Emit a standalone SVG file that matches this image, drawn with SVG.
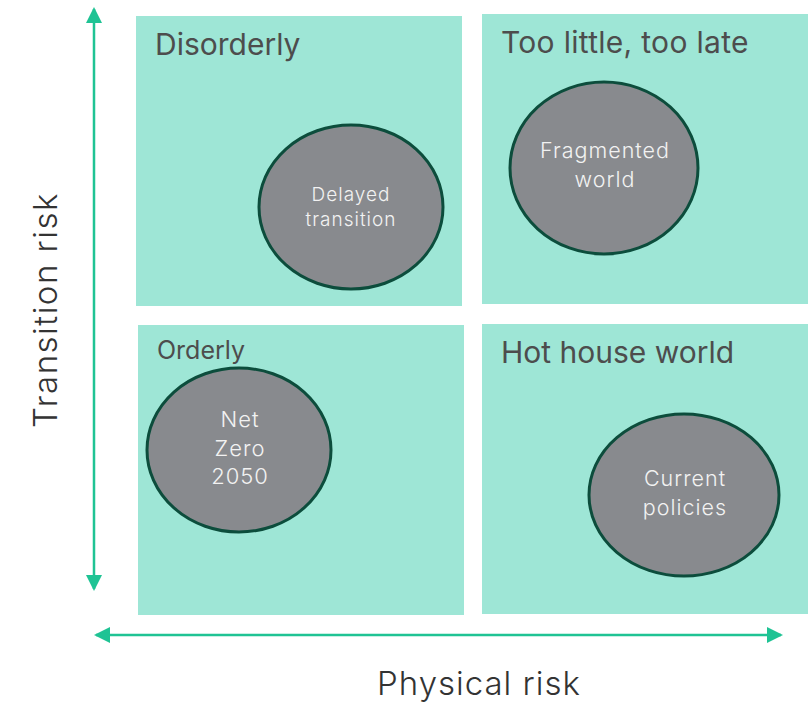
<svg xmlns="http://www.w3.org/2000/svg" width="810" height="703" viewBox="0 0 810 703">
  <defs>
    <style>
      .quad { fill: #9ee6d6; }
      .title { font-family: Inter, Roboto, "Liberation Sans", sans-serif; fill: #4d4d4d; font-size: 30px; }
      .scen { fill: #888a8e; stroke: #0c4d3c; stroke-width: 3; }
      .stxt { font-family: Inter, Roboto, "Liberation Sans", sans-serif; fill: #f2f2f2; font-size: 19px; font-weight: 300; letter-spacing: 1px; text-anchor: middle; }
      .axis { stroke: #1fc394; stroke-width: 2.5; fill: none; }
      .axlbl { font-family: Inter, Roboto, "Liberation Sans", sans-serif; fill: #333333; font-size: 33px; font-weight: 300; letter-spacing: 1px; text-anchor: middle; }
    </style>
    <marker id="tip" viewBox="0 0 16 16" refX="14" refY="8" markerWidth="16" markerHeight="16" markerUnits="userSpaceOnUse" orient="auto-start-reverse">
      <path d="M0,0 L16,8 L0,16 Z" fill="#1fc394"/>
    </marker>
  </defs>

  <!-- axes -->
  <g id="connectors">
    <line class="axis" x1="94" y1="9" x2="94" y2="589" marker-start="url(#tip)" marker-end="url(#tip)"/>
    <line class="axis" x1="96" y1="635" x2="781" y2="635" marker-start="url(#tip)" marker-end="url(#tip)"/>
  </g>
  <text class="axlbl" transform="translate(57,310) rotate(-90)" style="letter-spacing:1.5px">Transition risk</text>
  <text class="axlbl" x="479" y="695">Physical risk</text>

  <!-- quadrants -->
  <g id="disorderly">
    <rect class="quad" x="136" y="16" width="326" height="290"/>
    <text class="title" x="155" y="55">Disorderly</text>
  </g>
  <g id="too-little-too-late">
    <rect class="quad" x="482" y="14" width="326" height="290"/>
    <text class="title" x="501" y="53" style="letter-spacing:0.3px">Too little, too late</text>
  </g>
  <g id="orderly">
    <rect class="quad" x="138" y="325" width="326" height="290"/>
    <text class="title" x="157" y="359" style="font-size:25px">Orderly</text>
  </g>
  <g id="hot-house-world">
    <rect class="quad" x="482" y="324" width="326" height="290"/>
    <text class="title" x="501" y="363">Hot house world</text>
  </g>

  <!-- scenarios -->
  <g id="delayed-transition">
    <ellipse class="scen" cx="351" cy="207" rx="92" ry="82"/>
    <text class="stxt" x="351" y="201">Delayed</text>
    <text class="stxt" x="351" y="226">transition</text>
  </g>
  <g id="fragmented-world">
    <ellipse class="scen" cx="604" cy="168" rx="94" ry="86"/>
    <text class="stxt" x="605" y="158" style="font-size:21.5px">Fragmented</text>
    <text class="stxt" x="605" y="187" style="font-size:21.5px">world</text>
  </g>
  <g id="net-zero-2050">
    <ellipse class="scen" cx="239" cy="450" rx="92" ry="82"/>
    <text class="stxt" x="240" y="427" style="font-size:22px">Net</text>
    <text class="stxt" x="240" y="456" style="font-size:22px">Zero</text>
    <text class="stxt" x="240" y="484" style="font-size:22px">2050</text>
  </g>
  <g id="current-policies">
    <ellipse class="scen" cx="684" cy="495" rx="95" ry="81"/>
    <text class="stxt" x="685" y="486" style="font-size:21.5px">Current</text>
    <text class="stxt" x="685" y="515" style="font-size:21.5px">policies</text>
  </g>
</svg>
